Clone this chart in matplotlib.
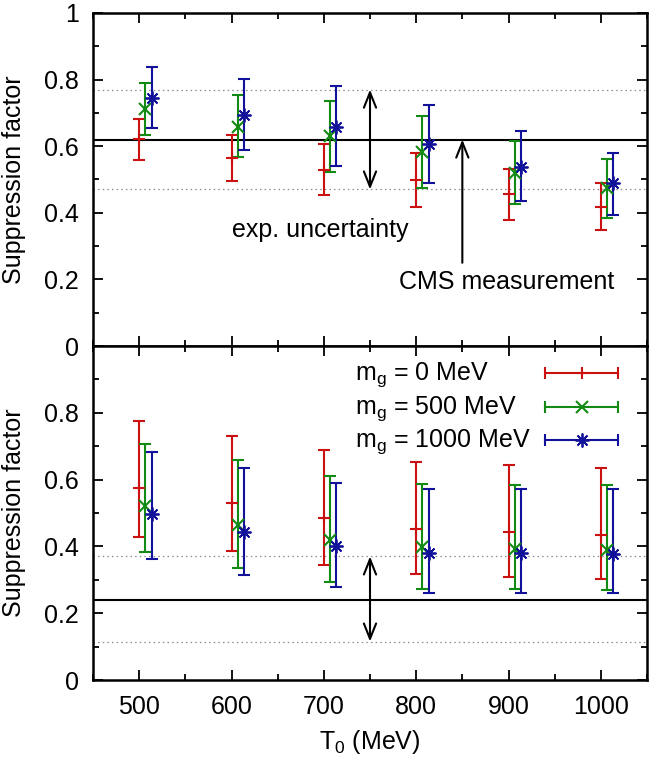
import matplotlib
matplotlib.use("Agg")
import matplotlib.pyplot as plt
from matplotlib.ticker import MultipleLocator, FuncFormatter

plt.rcParams['font.family'] = ['Liberation Sans', 'DejaVu Sans']
plt.rcParams['font.size'] = 18
plt.rcParams['mathtext.fontset'] = 'custom'
plt.rcParams['mathtext.rm'] = 'Liberation Sans'
plt.rcParams['mathtext.it'] = 'Liberation Sans'
plt.rcParams['mathtext.default'] = 'regular'

# ---------------- data ----------------
T0 = [500, 600, 700, 800, 900, 1000]
labels = [r'm$_g$ = 0 MeV', r'm$_g$ = 500 MeV', r'm$_g$ = 1000 MeV']

# top panel
top_red_c = [0.621, 0.564, 0.529, 0.498, 0.455, 0.418]
top_red_lo = [0.559, 0.495, 0.454, 0.418, 0.378, 0.348]
top_red_hi = [0.681, 0.634, 0.607, 0.579, 0.531, 0.489]
top_green_c = [0.711, 0.659, 0.632, 0.584, 0.519, 0.473]
top_green_lo = [0.634, 0.569, 0.523, 0.475, 0.426, 0.383]
top_green_hi = [0.790, 0.754, 0.737, 0.691, 0.615, 0.561]
top_blue_c = [0.745, 0.694, 0.659, 0.607, 0.539, 0.489]
top_blue_lo = [0.656, 0.588, 0.542, 0.489, 0.435, 0.393]
top_blue_hi = [0.837, 0.803, 0.780, 0.724, 0.645, 0.581]
top_cms = 0.62
top_cms_lo = 0.47
top_cms_hi = 0.77

# bottom panel
bot_red_c = [0.576, 0.531, 0.486, 0.453, 0.442, 0.435]
bot_red_lo = [0.428, 0.387, 0.345, 0.318, 0.309, 0.303]
bot_red_hi = [0.774, 0.730, 0.689, 0.654, 0.643, 0.635]
bot_green_c = [0.520, 0.465, 0.420, 0.398, 0.392, 0.388]
bot_green_lo = [0.384, 0.334, 0.293, 0.273, 0.273, 0.270]
bot_green_hi = [0.706, 0.658, 0.612, 0.588, 0.585, 0.583]
bot_blue_c = [0.497, 0.442, 0.400, 0.380, 0.380, 0.378]
bot_blue_lo = [0.362, 0.313, 0.277, 0.260, 0.260, 0.260]
bot_blue_hi = [0.683, 0.635, 0.591, 0.571, 0.571, 0.571]
bot_cms = 0.24
bot_cms_lo = 0.115
bot_cms_hi = 0.37

# ---------------- style ----------------
colors = ['#cc1111', '#138a13', '#11119a']
markers = ['+', 'x', (8, 2, 0)]
msizes = [8, 8, 10]
mews = [1.5, 1.5, 1.3]
offsets = [0.0, 6.5, 13.5]
LW = 1.5
CAP = 4.3

fig = plt.figure(figsize=(6.54, 7.62), dpi=100)
L, R = 93 / 654, 647 / 654
ax_top = fig.add_axes([L, 1 - 346 / 762, R - L, (346 - 13) / 762])
ax_bot = fig.add_axes([L, 1 - 680 / 762, R - L, (680 - 346) / 762])


def style_axis(ax, show_x, ylabels_skip_top):
    ax.set_xlim(450, 1050)
    ax.set_ylim(0, 1)
    ax.xaxis.set_major_locator(MultipleLocator(100))
    ax.xaxis.set_minor_locator(MultipleLocator(50))
    ax.yaxis.set_major_locator(MultipleLocator(0.2))
    ax.yaxis.set_minor_locator(MultipleLocator(0.1))
    ax.tick_params(which='both', direction='in', top=True, right=True, width=1.3)
    ax.tick_params(which='major', length=7.5)
    ax.tick_params(which='minor', length=4)
    ax.tick_params(axis='y', which='major', pad=10)
    ax.tick_params(axis='x', which='major', pad=11)
    for s in ax.spines.values():
        s.set_linewidth(1.8)

    def yfmt(v, pos):
        if ylabels_skip_top and v > 0.99:
            return ''
        return '{:g}'.format(round(v, 2))
    ax.yaxis.set_major_formatter(FuncFormatter(yfmt))
    if not show_x:
        ax.tick_params(axis='x', labelbottom=False)
    ax.set_ylabel('Suppression factor', labelpad=13)


def draw_panel(ax, series, cms, lo, hi):
    ax.axhline(cms, color='black', lw=1.5, zorder=2)
    for v in (lo, hi):
        ax.axhline(v, color='#8c8c8c', lw=0.9, ls=(0, (1.2, 2.5)), zorder=1)
    for (c, l, h), col, mk, ms, mew, off in zip(series, colors, markers, msizes, mews, offsets):
        x = [t + off for t in T0]
        yerr = [[ci - li for ci, li in zip(c, l)], [hi_ - ci for ci, hi_ in zip(c, h)]]
        ax.errorbar(x, c, yerr=yerr, fmt='none', ecolor=col, elinewidth=LW,
                    capsize=CAP, capthick=LW, zorder=3)
        ax.plot(x, c, linestyle='none', marker=mk, color=col, ms=ms, mew=mew, zorder=4)


style_axis(ax_top, False, False)
style_axis(ax_bot, True, True)

draw_panel(ax_top,
           [(top_red_c, top_red_lo, top_red_hi),
            (top_green_c, top_green_lo, top_green_hi),
            (top_blue_c, top_blue_lo, top_blue_hi)],
           top_cms, top_cms_lo, top_cms_hi)
draw_panel(ax_bot,
           [(bot_red_c, bot_red_lo, bot_red_hi),
            (bot_green_c, bot_green_lo, bot_green_hi),
            (bot_blue_c, bot_blue_lo, bot_blue_hi)],
           bot_cms, bot_cms_lo, bot_cms_hi)

arrow_kw = dict(lw=1.5, color='black', shrinkA=0, shrinkB=0, mutation_scale=20)
ax_top.annotate('', xy=(750, top_cms_hi), xytext=(750, top_cms_lo),
                arrowprops=dict(arrowstyle='<->,head_length=0.55,head_width=0.22', **arrow_kw))
ax_bot.annotate('', xy=(750, bot_cms_hi), xytext=(750, bot_cms_lo),
                arrowprops=dict(arrowstyle='<->,head_length=0.55,head_width=0.22', **arrow_kw))
ax_top.annotate('', xy=(850, top_cms), xytext=(850, 0.25),
                arrowprops=dict(arrowstyle='->,head_length=0.55,head_width=0.22', **arrow_kw))
ax_top.text(600, 0.328, 'exp. uncertainty', ha='left', va='baseline')
ax_top.text(781, 0.172, 'CMS measurement', ha='left', va='baseline')

ax_bot.set_xlabel(r'T$_0$ (MeV)', labelpad=6)

# legend (gnuplot style: text left, errorbar key on the right)
key_x0, key_x1 = 0.816, 0.948
key_xc = 0.5 * (key_x0 + key_x1)
text_x = 0.473
rows = [0.919, 0.818, 0.718]
for lab, col, mk, ms, mew, ry in zip(labels, colors, markers, msizes, mews, rows):
    ax_bot.text(text_x, ry - 0.021, lab, transform=ax_bot.transAxes, ha='left', va='baseline')
    ax_bot.plot([key_x0, key_x1], [ry, ry], transform=ax_bot.transAxes, color=col, lw=LW)
    ax_bot.plot([key_x0, key_x1], [ry, ry], transform=ax_bot.transAxes, color=col,
                linestyle='none', marker='|', ms=2 * CAP, mew=LW)
    ax_bot.plot([key_xc], [ry], transform=ax_bot.transAxes, color=col,
                linestyle='none', marker=mk, ms=ms, mew=mew)

fig.savefig('out.png', dpi=100)
